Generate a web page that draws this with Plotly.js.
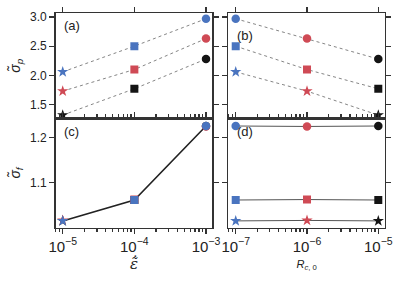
<!DOCTYPE html>
<html>
<head>
<meta charset="utf-8">
<script src="https://cdn.plot.ly/plotly-3.0.1.min.js"></script>
<style>html,body{margin:0;padding:0;background:#fff;}#chart{width:399px;height:283px;}</style>
</head>
<body>
<div id="chart"></div>
<script>
// strain rates and initial crack radii
const epsRate = [1e-5, 1e-4, 1e-3];
const rc0 = [1e-7, 1e-6, 1e-5];
// peak stress sigma_p, one array per R_c0 (blue 1e-7, red 1e-6, black 1e-5), over epsRate
const sigmaP_blue = [2.06, 2.50, 2.97];
const sigmaP_red = [1.73, 2.10, 2.63];
const sigmaP_black = [1.32, 1.77, 2.28];
// final stress sigma_f
const sigmaF_blue = [1.016, 1.062, 1.225];
const sigmaF_red = [1.017, 1.063, 1.224];
const sigmaF_black = [1.016, 1.062, 1.225];
const yTicksTop = [1.5, 2.0, 2.5, 3.0];
const yTicksBot = [1.1, 1.2];
const panelLabels = ['(a)', '(b)', '(c)', '(d)'];

const colBlue = '#4a74bf', colRed = '#cf4a55', colBlack = '#141414';
const colors = [colBlue, colRed, colBlack];
const symbols = ['star', 'square', 'circle'];
const sizes = [8.5, 8, 8.5];
const sp = [sigmaP_blue, sigmaP_red, sigmaP_black];
const sf = [sigmaF_blue, sigmaF_red, sigmaF_black];

const traces = [];
const dotLine = {color: '#777', width: 0.9, dash: 'dot'};
// (a) lines per R_c0
for (let c = 0; c < 3; c++) {
  traces.push({x: epsRate, y: sp[c], xaxis: 'x', yaxis: 'y', mode: 'lines', line: dotLine, showlegend: false});
}
// (a) markers per strain rate
for (let s = 0; s < 3; s++) {
  traces.push({x: [epsRate[s], epsRate[s], epsRate[s]], y: [sp[0][s], sp[1][s], sp[2][s]], xaxis: 'x', yaxis: 'y',
    mode: 'markers', marker: {color: colors, symbol: symbols[s], size: sizes[s]}, showlegend: false});
}
// (b)
for (let s = 0; s < 3; s++) {
  traces.push({x: rc0, y: [sp[0][s], sp[1][s], sp[2][s]], xaxis: 'x2', yaxis: 'y2', mode: 'lines+markers',
    line: dotLine, marker: {color: colors, symbol: symbols[s], size: sizes[s]}, showlegend: false});
}
// (c) line
traces.push({x: epsRate, y: sf[2], xaxis: 'x3', yaxis: 'y3', mode: 'lines', line: {color: '#222', width: 1.6}, showlegend: false});
// (c) markers (black, red, blue drawn in that order)
for (let s = 0; s < 3; s++) {
  traces.push({x: [epsRate[s], epsRate[s], epsRate[s]], y: [sf[2][s], sf[1][s], sf[0][s]], xaxis: 'x3', yaxis: 'y3',
    mode: 'markers', marker: {color: [colBlack, colRed, colBlue], symbol: symbols[s], size: sizes[s]}, showlegend: false});
}
// (d)
for (let s = 0; s < 3; s++) {
  traces.push({x: rc0, y: [sf[0][s], sf[1][s], sf[2][s]], xaxis: 'x4', yaxis: 'y4', mode: 'lines+markers',
    line: {color: '#555', width: 1}, marker: {color: colors, symbol: symbols[s], size: sizes[s]}, showlegend: false});
}

const font = {family: 'Liberation Sans, Arial, sans-serif', size: 11, color: '#222'};
const axBase = {showline: true, linecolor: '#333', linewidth: 1.5, ticks: 'outside', ticklen: 5,
  tickwidth: 1.2, tickcolor: '#333', showgrid: false, zeroline: false};
const dL = [0.1396, 0.5321], dR = [0.5722, 0.9649], dT = [0.582, 0.953], dB = [0.1954, 0.582];
const xL = [-5.098, -2.912], xR = [-7.104, -4.906];
const yT = [1.265, 3.063], yB = [1.001, 1.242];
const minor = {ticks: 'outside', ticklen: 3, tickcolor: '#333', dtick: 'D1', showgrid: false};

const layout = {
  width: 399, height: 283, margin: {l: 0, r: 0, t: 0, b: 0},
  paper_bgcolor: '#fff', plot_bgcolor: '#fff', font: font,
  xaxis: Object.assign({}, axBase, {type: 'log', range: xL, domain: dL, anchor: 'y', side: 'top',
    mirror: true, showticklabels: false, dtick: 1}),
  xaxis2: Object.assign({}, axBase, {type: 'log', range: xR, domain: dR, anchor: 'y2', side: 'top',
    mirror: true, showticklabels: false, dtick: 1}),
  xaxis3: Object.assign({}, axBase, {type: 'log', range: xL, domain: dL, anchor: 'y3', mirror: 'ticks',
    dtick: 1, exponentformat: 'power', tickfont: {size: 12}, minor: minor,
    title: {text: '<i>ε\u0303\u0307</i>', font: {size: 15, family: 'DejaVu Serif, serif'}, standoff: 2}}),
  xaxis4: Object.assign({}, axBase, {type: 'log', range: xR, domain: dR, anchor: 'y4', mirror: 'ticks',
    dtick: 1, exponentformat: 'power', tickfont: {size: 12}, minor: minor,
    title: {text: '<i>R</i><sub><i>c</i>, 0</sub>', font: {size: 11}, standoff: 6}}),
  yaxis: Object.assign({}, axBase, {range: yT, domain: dT, anchor: 'x', mirror: 'ticks',
    tickvals: yTicksTop, tickformat: '.1f', tickfont: {size: 12},
    title: {text: '<i>σ\u0303<sub>p</sub></i>', font: {size: 14}, standoff: 6}}),
  yaxis2: Object.assign({}, axBase, {range: yT, domain: dT, anchor: 'x2', mirror: 'ticks',
    tickvals: yTicksTop, showticklabels: false}),
  yaxis3: Object.assign({}, axBase, {range: yB, domain: dB, anchor: 'x3', mirror: 'ticks',
    tickvals: yTicksBot, tickformat: '.1f', tickfont: {size: 12},
    title: {text: '<i>σ\u0303<sub>f</sub></i>', font: {size: 14}, standoff: 6}}),
  yaxis4: Object.assign({}, axBase, {range: yB, domain: dB, anchor: 'x4', mirror: 'ticks',
    tickvals: yTicksBot, showticklabels: false}),
  annotations: [
    {text: panelLabels[0], xref: 'x domain', yref: 'y domain', x: 0.04, y: 0.97},
    {text: panelLabels[1], xref: 'x2 domain', yref: 'y2 domain', x: 0.04, y: 0.88},
    {text: panelLabels[2], xref: 'x3 domain', yref: 'y3 domain', x: 0.04, y: 0.97},
    {text: panelLabels[3], xref: 'x4 domain', yref: 'y4 domain', x: 0.04, y: 0.97}
  ].map(a => Object.assign(a, {showarrow: false, xanchor: 'left', yanchor: 'top', font: {size: 13, color: '#222'}}))
};

Plotly.newPlot('chart', traces, layout, {displayModeBar: false, staticPlot: true});
</script>
</body>
</html>
